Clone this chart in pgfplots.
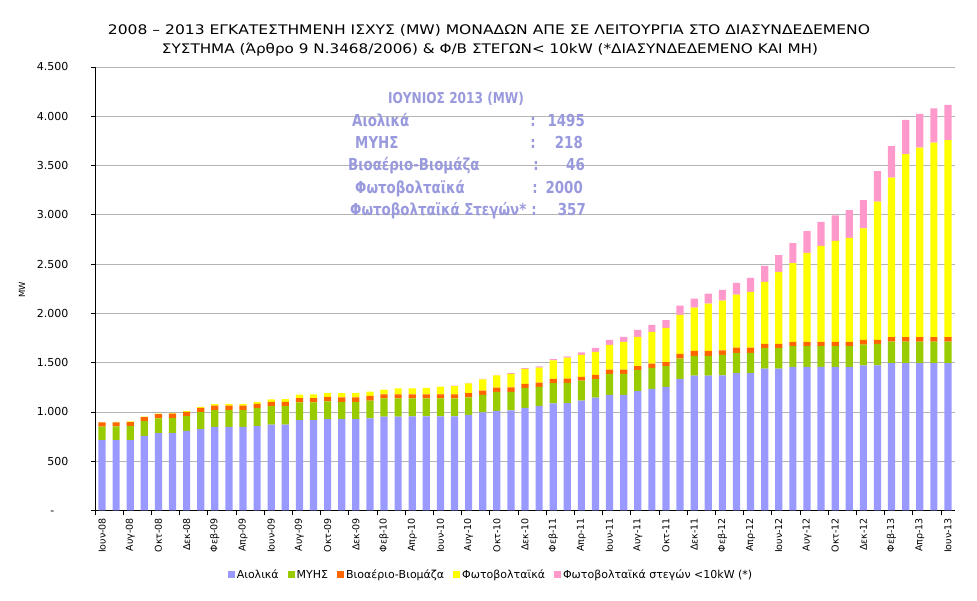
\documentclass[border=0pt]{standalone}
\usepackage{pgfplots}
\pgfplotsset{compat=1.18}
\usepackage{pgfplotstable}
\usepackage{graphicx}
\usepackage{fontspec}
\setmainfont{DejaVu Sans}
\newfontfamily\insetfont{DejaVu Sans}[FakeStretch=0.81]
\definecolor{cA}{HTML}{9999FF}
\definecolor{cM}{HTML}{99CC00}
\definecolor{cB}{HTML}{FF6600}
\definecolor{cP}{HTML}{FFFF00}
\definecolor{cR}{HTML}{FF99CC}
\definecolor{cT}{HTML}{9999DD}
\definecolor{cG}{HTML}{B4B4B4}
\pgfplotstableread{
i A M B P R
0 713 139 43 2 0
1 713 140 42 3 0
2 713 142 42 6 0
3 757 149 41 5 0
4 784 150 44 6 0
5 784 153 45 6 0
6 808 149 43 8 0
7 825 173 44 10 0
8 848 170 46 16 0
9 848 170 46 18 0
10 848 170 46 18 0
11 855 184 44 20 0
12 872 187 44 25 0
13 872 187 44 27 0
14 916 180 45 35 0
15 916 180 45 37 0
16 927 180 47 36 0
17 927 176 45 42 0
18 927 176 45 44 0
19 935 180 47 44 0
20 953 184 41 48 0
21 953 184 41 60 0
22 955 182 41 62 0
23 955 182 41 67 0
24 955 182 41 80 0
25 955 182 41 84 4
26 970 178 44 98 6
27 996 177 43 114 5
28 1010 193 43 124 6
29 1015 189 44 137 8
30 1040 205 40 151 8
31 1061 194 42 153 12
32 1088 205 42 187 13
33 1090 206 41 213 15
34 1116 202 37 223 27
35 1146 187 43 233 41
36 1173 213 44 250 51
37 1173 213 44 281 51
38 1211 214 41 296 71
39 1235 213 42 323 71
40 1255 210 40 349 78
41 1335 205 50 396 92
42 1369 201 50 438 92
43 1369 201 50 479 102
44 1371 207 47 504 109
45 1394 206 52 538 119
46 1394 206 52 566 142
47 1439 209 42 630 161
48 1439 209 42 731 170
49 1456 213 43 797 204
50 1456 213 43 902 221
51 1456 213 43 973 244
52 1456 213 43 1024 258
53 1456 213 43 1055 281
54 1473 211 48 1130 288
55 1473 217 42 1401 311
56 1495 218 46 1618 321
57 1495 218 46 1858 346
58 1495 218 46 1923 342
59 1495 218 46 1973 349
60 1495 218 46 2000 357
}\data
\begin{document}
\begin{tikzpicture}[x=1pt,y=1pt]
\path[use as bounding box] (0,0) rectangle (977,601);
\begin{axis}[
  at={(95pt,90.5pt)}, anchor=south west,
  scale only axis, width=860pt, height=443.5pt,
  ybar stacked, bar width=7.2pt,
  xmin=-0.5, xmax=60.5, ymin=0, ymax=4500,
  axis x line*=bottom, axis y line*=left,
  axis line style={black, line width=0.8pt},
  ytick={0,500,...,4500},
  yticklabels={-\phantom{00},500,1.000,1.500,2.000,2.500,3.000,3.500,4.000,4.500},
  yticklabel style={font=\fontsize{11}{13}\selectfont, xshift=-19pt},
  ymajorgrids, grid style={draw=cG, line width=0.8pt},
  tick align=outside, major tick length=4pt,
  tick style={black, line width=0.7pt},
  xtick={0,2,...,60},
  xticklabels={Ιουν-08,Αυγ-08,Οκτ-08,Δεκ-08,Φεβ-09,Απρ-09,Ιουν-09,Αυγ-09,Οκτ-09,Δεκ-09,Φεβ-10,Απρ-10,Ιουν-10,Αυγ-10,Οκτ-10,Δεκ-10,Φεβ-11,Απρ-11,Ιουν-11,Αυγ-11,Οκτ-11,Δεκ-11,Φεβ-12,Απρ-12,Ιουν-12,Αυγ-12,Οκτ-12,Δεκ-12,Φεβ-13,Απρ-13,Ιουν-13},
  xticklabel style={rotate=90, anchor=east, font=\fontsize{9.5}{11}\selectfont},
  major x tick style={draw=none},
  minor xtick={-0.5,1.5,...,59.5}, minor tick length=5pt,
  legend columns=5,
  legend cell align=left,
  legend image code/.code={\fill[#1] (0pt,-3.2pt) rectangle (7pt,3.8pt);},
  legend style={at={(0.4605,-0.1454)}, anchor=center, draw=none, fill=none,
    font=\fontsize{11}{13}\selectfont,
    /tikz/every even column/.append style={column sep=7pt}},
]
\addplot[fill=cA, draw=none] table[x=i,y=A]{\data};
\addplot[fill=cM, draw=none] table[x=i,y=M]{\data};
\addplot[fill=cB, draw=none] table[x=i,y=B]{\data};
\addplot[fill=cP, draw=none] table[x=i,y=P]{\data};
\addplot[fill=cR, draw=none] table[x=i,y=R]{\data};
\legend{Αιολικά,ΜΥΗΣ,Βιοαέριο-Βιομάζα,Φωτοβολταϊκά,Φωτοβολταϊκά στεγών <10kW (*)}
\end{axis}
% titles
\node[anchor=base, inner sep=0pt] at (489,566) {\fontsize{13.2}{16}\selectfont\resizebox{762pt}{\height}{2008 – 2013  ΕΓΚΑΤΕΣΤΗΜΕΝΗ ΙΣΧΥΣ (MW)  ΜΟΝΑΔΩΝ ΑΠΕ  ΣΕ ΛΕΙΤΟΥΡΓΙΑ ΣΤΟ ΔΙΑΣΥΝΔΕΔΕΜΕΝΟ}};
\node[anchor=base, inner sep=0pt] at (490,547.7) {\fontsize{13.2}{16}\selectfont\resizebox{656pt}{\height}{ΣΥΣΤΗΜΑ (Άρθρο 9 Ν.3468/2006) \& Φ/Β ΣΤΕΓΩΝ< 10kW (*ΔΙΑΣΥΝΔΕΔΕΜΕΝΟ ΚΑΙ ΜΗ)}};
\node[rotate=90, font=\fontsize{8.5}{10}\selectfont] at (22,311) {MW};
% inset
\begin{scope}[every node/.style={inner sep=0pt, text=cT, font=\insetfont\bfseries\fontsize{16.5}{19}\selectfont}]
\node[anchor=base, font=\insetfont\bfseries\fontsize{15}{18}\selectfont] at (456,497.7) {ΙΟΥΝΙΟΣ 2013 (MW)};
\node[anchor=base west] at (352,474.3) {Αιολικά};
\node[anchor=base west] at (355,452.7) {ΜΥΗΣ};
\node[anchor=base west] at (348,430) {Βιοαέριο-Βιομάζα};
\node[anchor=base west] at (355,407.5) {Φωτοβολταϊκά};
\node[anchor=base west] at (350,385) {Φωτοβολταϊκά Στεγών*};
\node[anchor=base] at (533,474.3) {:};
\node[anchor=base] at (533,452.7) {:};
\node[anchor=base] at (536,430) {:};
\node[anchor=base] at (535,407.5) {:};
\node[anchor=base] at (534,385) {:};
\node[anchor=base east] at (585,474.3) {1495};
\node[anchor=base east] at (583,452.7) {218};
\node[anchor=base east] at (585,430) {46};
\node[anchor=base east] at (583,407.5) {2000};
\node[anchor=base east] at (586,385) {357};
\end{scope}
\end{tikzpicture}
\end{document}
